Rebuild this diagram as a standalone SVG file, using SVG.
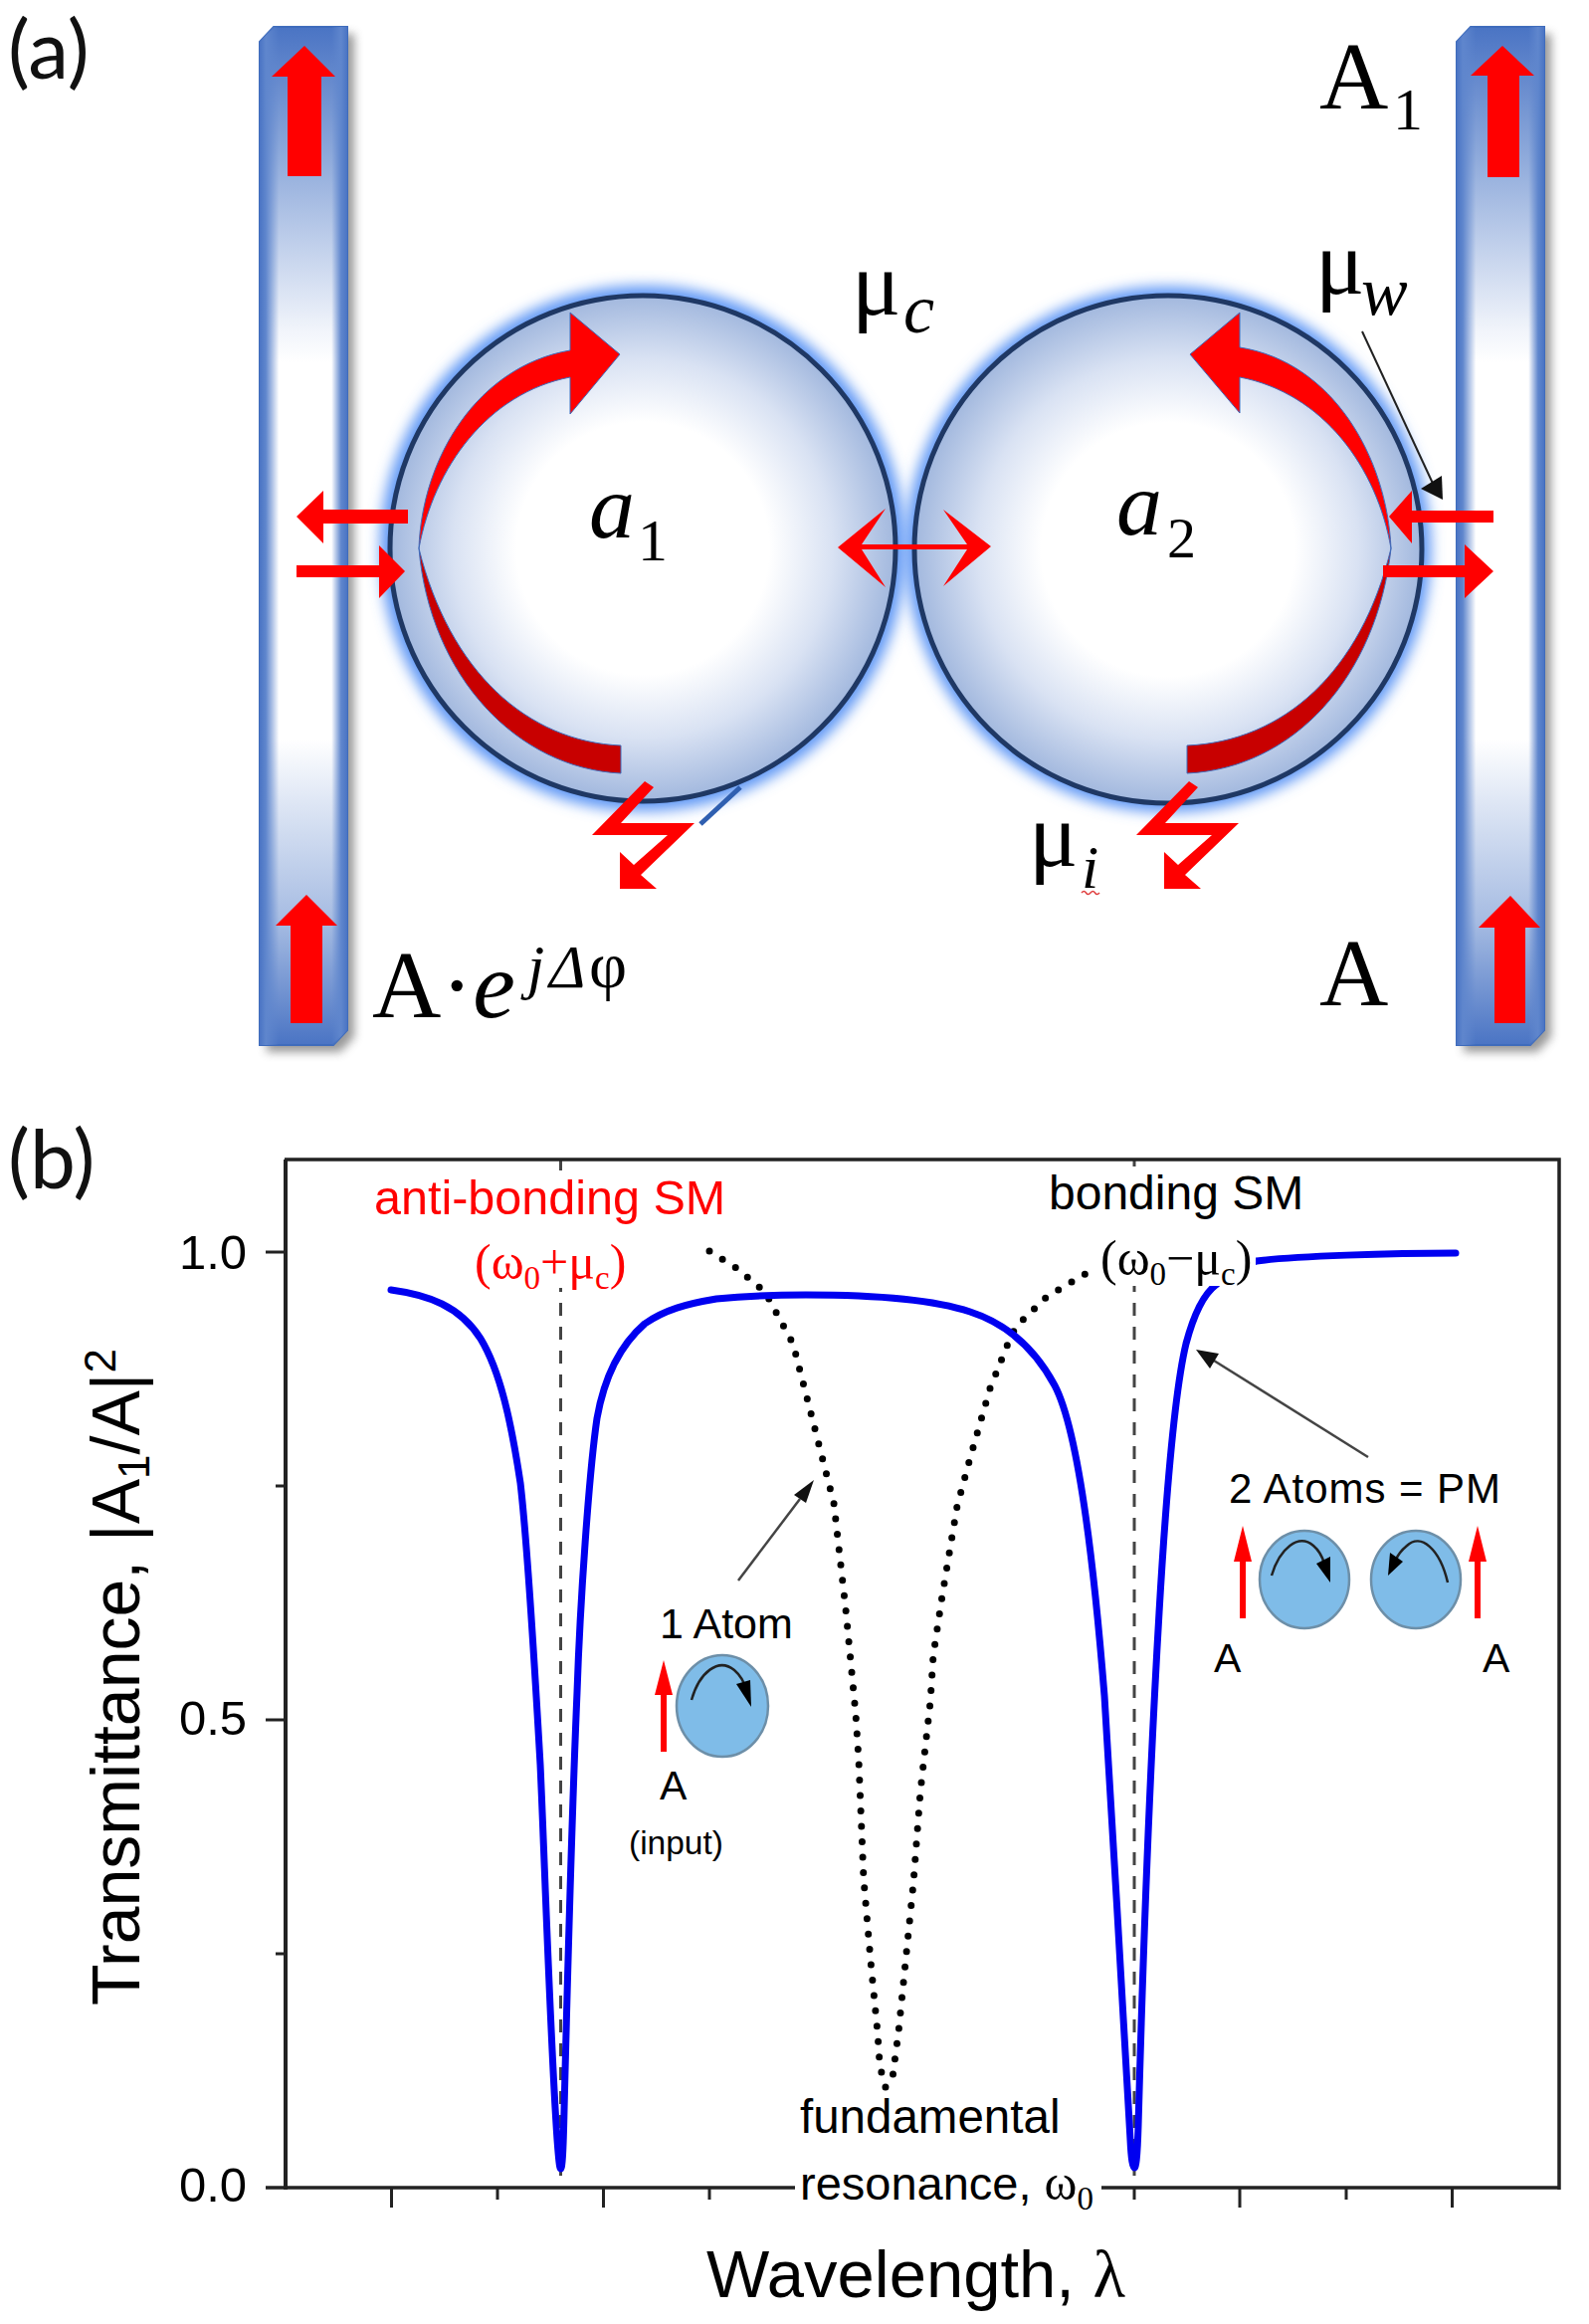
<svg xmlns="http://www.w3.org/2000/svg" xmlns:xlink="http://www.w3.org/1999/xlink" width="1597" height="2335" viewBox="0 0 1597 2335">
<style>
text{fill:#000}
.s{font-family:"Liberation Sans",Arial,sans-serif}
.r{font-family:"Liberation Serif","Times New Roman",serif}
.i{font-family:"Liberation Serif","Times New Roman",serif;font-style:italic}
.l{font-family:Lato,"Open Sans",sans-serif;font-size:82px;fill:#111}
.red{fill:#ff0000}
.dred{fill:#c80000}
.wg{fill:url(#wgV);stroke:#3f6cbc;stroke-width:2}
.ring{fill:url(#disc);stroke:#1f3864;stroke-width:5}
.glow{fill:#5f97f5;filter:url(#blur)}
.atom{fill:#7fbce8;stroke:#6d8fa8;stroke-width:2.5}
.arc{fill:none;stroke:#222;stroke-width:2.5}
.lead{stroke:#444;stroke-width:2.5;fill:none}
.ax{stroke:#222;fill:none}
.dash{stroke:#444;stroke-width:3;stroke-dasharray:13 11;fill:none}
</style>
<defs>
<linearGradient id="wgV" x1="0" y1="0" x2="0" y2="1">
<stop offset="0" stop-color="#4a74c4"/><stop offset=".14" stop-color="#95afdd"/><stop offset=".3" stop-color="#f2f5fb"/><stop offset=".33" stop-color="#fff"/><stop offset=".7" stop-color="#fff"/><stop offset=".76" stop-color="#dfe7f5"/><stop offset=".88" stop-color="#a5bbe2"/><stop offset="1" stop-color="#4a74c4"/>
</linearGradient>
<linearGradient id="wgH" x1="0" y1="0" x2="1" y2="0">
<stop offset="0" stop-color="#4a74c4"/><stop offset=".07" stop-color="#5f86cd"/><stop offset=".22" stop-color="#5f86cd" stop-opacity="0"/><stop offset=".82" stop-color="#5f86cd" stop-opacity="0"/><stop offset=".93" stop-color="#5f86cd"/><stop offset="1" stop-color="#4a74c4"/>
</linearGradient>
<radialGradient id="disc" cx=".5" cy=".5" r=".5">
<stop offset="0" stop-color="#fff"/><stop offset=".5" stop-color="#fff"/><stop offset=".75" stop-color="#d9e2f3"/><stop offset="1" stop-color="#a2b8de"/>
</radialGradient>
<filter id="blur" x="-20%" y="-20%" width="140%" height="140%"><feGaussianBlur stdDeviation="7"/></filter>
<filter id="sh" x="-30%" y="-5%" width="170%" height="110%"><feGaussianBlur stdDeviation="5"/></filter>
<polygon id="zig" points="648,785 657,791 624,827 698,827 644,879 660,893 623,893 623,856 637,869 671,839 595,839"/>
<path id="wgShape" d="M14 0H88V1008L74 1023H0V15Z"/>
</defs>
<rect width="1597" height="2335" fill="#fff"/>

<text class="l" x="8" y="79">(a)</text>
<text class="l" x="8" y="1194">(b)</text>

<g id="waveguide-left" transform="translate(261,27)">
<use xlink:href="#wgShape" fill="#555" opacity=".6" filter="url(#sh)" transform="translate(7,7)"/>
<use xlink:href="#wgShape" class="wg"/>
<use xlink:href="#wgShape" fill="url(#wgH)"/>
</g>
<g id="waveguide-right" transform="translate(1464,27)">
<use xlink:href="#wgShape" fill="#555" opacity=".6" filter="url(#sh)" transform="translate(7,7)"/>
<use xlink:href="#wgShape" class="wg"/>
<use xlink:href="#wgShape" fill="url(#wgH)"/>
</g>

<g id="resonator-1">
<circle class="glow" cx="646" cy="551" r="264"/>
</g>
<g id="resonator-2">
<circle class="glow" cx="1174" cy="552" r="264"/>
<circle class="ring" cx="1174" cy="552" r="255"/>
</g>
<circle class="ring" cx="646" cy="551" r="254"/>

<g id="connectors">
<path class="red" stroke="#3f6cbc" stroke-width="1" d="M421 551C424 460 480 368 573 352V314L623 356L573 416V379C490 395 436 470 421 551Z"/>
<path class="dred" stroke="#3f6cbc" stroke-width="1" d="M421 551C432 680 520 772 624 777V749C530 745 452 675 421 551Z"/>
<path class="red" stroke="#3f6cbc" stroke-width="1" d="M1398 551C1394 460 1340 364 1246 349V314L1196 356L1246 415V379C1330 395 1384 470 1398 551Z"/>
<path class="dred" stroke="#3f6cbc" stroke-width="1" d="M1398 551C1384 680 1300 772 1193 777V749C1290 745 1368 675 1398 551Z"/>
<polygon class="red" points="410,512 325,512 325,493 298,519 325,546 325,526 410,526"/>
<polygon class="red" points="298,568 381,568 381,548 407,574 381,601 381,580 298,580"/>
<polygon class="red" points="1501,513 1419,513 1419,493 1396,519 1419,546 1419,525 1501,525"/>
<polygon class="red" points="1390,568 1472,568 1472,547 1501,574 1472,601 1472,580 1390,580"/>
<polygon class="red" points="842,550 890,511 866,547 972,547 948,512 996,549 948,589 972,552 866,552 890,590"/>
<polygon class="red" points="306,46 337,77 323,77 323,177 289,177 289,77 273,77"/>
<polygon class="red" points="308,899 339,930 324,930 324,1028 292,1028 292,930 277,930"/>
<polygon class="red" points="1510,46 1542,76 1527,76 1527,178 1495,178 1495,76 1478,76"/>
<polygon class="red" points="1518,900 1548,932 1533,932 1533,1028 1502,1028 1502,932 1486,932"/>
<use xlink:href="#zig" class="red"/>
<use xlink:href="#zig" class="red" transform="translate(547,0)"/>
<path d="M704 828L744 791" stroke="#2f5fb0" stroke-width="5" fill="none"/>
<path d="M1369 333L1442 490" stroke="#222" stroke-width="2" fill="none"/>
<polygon points="1450,502 1428,491 1449,478" fill="#111"/>
<path d="M1087 897q2.500 -3 4.500 0t4.500 0t4.500 0t4.500 0" stroke="#e04040" stroke-width="1.500" fill="none"/>
</g>

<g id="labels-a">
<text class="r" x="1326" y="109" font-size="96">A</text>
<text class="r" x="1400" y="130" font-size="60">1</text>
<text class="r" x="1326" y="1010" font-size="96">A</text>
<text class="r" x="856" y="316" font-size="92">μ</text>
<text class="i" x="908" y="334" font-size="70">c</text>
<text class="r" x="1322" y="295" font-size="92">μ</text>
<text class="i" x="1368" y="316" font-size="70">w</text>
<text class="r" x="1034" y="870" font-size="92">μ</text>
<text class="i" x="1087" y="892" font-size="62">i</text>
<text class="i" x="592" y="540" font-size="92">a</text>
<text class="r" x="641" y="563" font-size="60">1</text>
<text class="i" x="1122" y="537" font-size="92">a</text>
<text class="r" x="1173" y="560" font-size="58">2</text>
<text class="r" x="374" y="1022" font-size="96">A·<tspan class="i">e</tspan></text>
<text class="i" x="530" y="992" font-size="62">j</text>
<text class="i" x="552" y="992" font-size="62">Δ</text>
<text class="r" x="592" y="992" font-size="66">φ</text>
</g>

<g id="plot">
<path class="dash" d="M563.500 1165V2198M1140 1165V2198"/>
<path class="ax" stroke-width="4" d="M287 1165V2200"/>
<path class="ax" stroke-width="3.500" d="M286 1165H1567V2200"/>
<path class="ax" stroke-width="3.500" d="M267 2198H1567"/>
<path class="ax" stroke-width="3" d="M267 1258H287M277 1493H287M267 1728H287M277 1963H287"/>
<path class="ax" stroke-width="3" d="M393.500 2198V2218M500 2198V2210M606.500 2198V2218M713 2198V2210M820 2198V2218M926.500 2198V2210M1033 2198V2218M1140 2198V2210M1246 2198V2218M1353 2198V2210M1459.500 2198V2218"/>
<polyline id="dotted" fill="none" stroke="#000" stroke-width="7" stroke-linecap="round" stroke-dasharray="0 15.500" points="713,1257 740,1274 769,1298 797,1350 815,1420 838,1510 850,1617 860,1722 863,1768 868,1888 875,1970 882,2042 884,2072 887,2088 890,2097 897,2088 899,2072 903,2042 918,1892 925,1800 930,1755 935,1710 938,1663 947,1603 962,1513 975,1465 995,1395 1013,1350 1021,1333 1052,1303 1094,1278"/>
<path id="blue" fill="none" stroke="#0000f0" stroke-width="7" stroke-linejoin="round" stroke-linecap="round" d="M393 1296C430 1301 462 1312 483 1345C503 1378 514 1430 523 1490C530 1550 536 1650 543 1773C547 1860 553 2050 560 2150C561.500 2170 562.500 2179 563.500 2179C565 2179 566 2165 567 2120C570 2000 574 1840 580 1700C583 1610 592 1480 600 1425C608 1380 625 1350 648 1330C668 1316 690 1310 720 1305C750 1302 780 1301 810 1301C860 1301 930 1303 975 1318C1012 1330 1040 1355 1060 1392C1080 1430 1097 1540 1110 1704C1118 1820 1130 2060 1136 2150C1137 2170 1138.500 2178 1140 2178C1141.500 2178 1143 2170 1144 2136C1148 1990 1155 1790 1165 1620C1172 1500 1180 1400 1192 1350C1200 1320 1210 1300 1222 1291C1235 1277 1250 1270 1263 1267C1300 1262 1400 1259 1463 1259"/>
</g>

<g id="label-boxes">
<rect x="370" y="1176" width="365" height="66" fill="#fff"/>
<rect x="478" y="1240" width="152" height="54" fill="#fff"/>
<rect x="1050" y="1172" width="262" height="54" fill="#fff"/>
<rect x="1105" y="1236" width="157" height="56" fill="#fff"/>
<rect x="799" y="2104" width="308" height="126" fill="#fff"/>
</g>

<g id="labels-b">
<text class="s" x="180" y="1275" font-size="49">1.0</text>
<text class="s" x="180" y="1743" font-size="49">0.5</text>
<text class="s" x="180" y="2212" font-size="49">0.0</text>
<text class="s" font-size="68" transform="translate(140,2015) rotate(-90)">Transmittance, |A<tspan font-size="44" dy="10">1</tspan><tspan dy="-10">/A|</tspan><tspan font-size="44" dy="-24">2</tspan></text>
<text class="s" x="710" y="2308" font-size="67">Wavelength, <tspan class="r">λ</tspan></text>
<text class="s" x="376" y="1220" font-size="48.500" style="fill:#f00">anti-bonding SM</text>
<text class="r" x="477" y="1285" font-size="50" style="fill:#f00">(ω<tspan font-size="33" dy="10">0</tspan><tspan dy="-10">+μ</tspan><tspan font-size="33" dy="10">c</tspan><tspan dy="-10">)</tspan></text>
<text class="s" x="1054" y="1215" font-size="48">bonding SM</text>
<text class="r" x="1106" y="1281" font-size="50">(ω<tspan font-size="33" dy="10">0</tspan><tspan dy="-10">−μ</tspan><tspan font-size="33" dy="10">c</tspan><tspan dy="-10">)</tspan></text>
<text class="s" x="804" y="2143" font-size="47.500">fundamental</text>
<text class="s" x="804" y="2210" font-size="47">resonance, <tspan class="r" font-size="50">ω</tspan><tspan class="r" font-size="33" dy="10">0</tspan></text>
</g>

<g id="atom-1">
<path class="lead" d="M742 1588L804 1506"/>
<polygon points="818,1487 810,1510 798,1502" fill="#111"/>
<text class="s" x="663" y="1646" font-size="43">1 Atom</text>
<polygon class="red" points="667,1668 676,1703 670,1703 670,1760 664,1760 664,1703 658,1703"/>
<ellipse class="atom" cx="726" cy="1714" rx="46" ry="51"/>
<path class="arc" d="M695 1708C703 1680 722 1665 738 1678C745 1684 748 1690 750 1698"/>
<polygon points="755,1715 740,1692 754,1688" fill="#000"/>
<text class="s" x="663" y="1808" font-size="41">A</text>
<text class="s" x="632" y="1863" font-size="33.500">(input)</text>
</g>

<g id="atoms-2">
<path class="lead" d="M1375 1464L1212 1362"/>
<polygon points="1202,1356 1225,1360 1216,1375" fill="#111"/>
<text class="s" x="1235" y="1510" font-size="42" textLength="273">2 Atoms = PM</text>
<polygon class="red" points="1249,1533 1258,1569 1252,1569 1252,1626 1246,1626 1246,1569 1240,1569"/>
<polygon class="red" points="1485,1533 1494,1569 1488,1569 1488,1626 1482,1626 1482,1569 1476,1569"/>
<ellipse class="atom" cx="1311" cy="1587" rx="45" ry="49"/>
<ellipse class="atom" cx="1423" cy="1587" rx="45" ry="49"/>
<path class="arc" d="M1278 1583C1286 1556 1305 1540 1320 1553C1326 1558 1329 1564 1331 1571"/>
<polygon points="1337,1590 1323,1571 1337,1564" fill="#000"/>
<path class="arc" d="M1455 1590C1447 1556 1428 1540 1414 1553C1408 1558 1405 1562 1403 1567"/>
<polygon points="1395,1583 1397,1560 1410,1569" fill="#000"/>
<text class="s" x="1220" y="1680" font-size="41">A</text>
<text class="s" x="1490" y="1680" font-size="41">A</text>
</g>
</svg>
